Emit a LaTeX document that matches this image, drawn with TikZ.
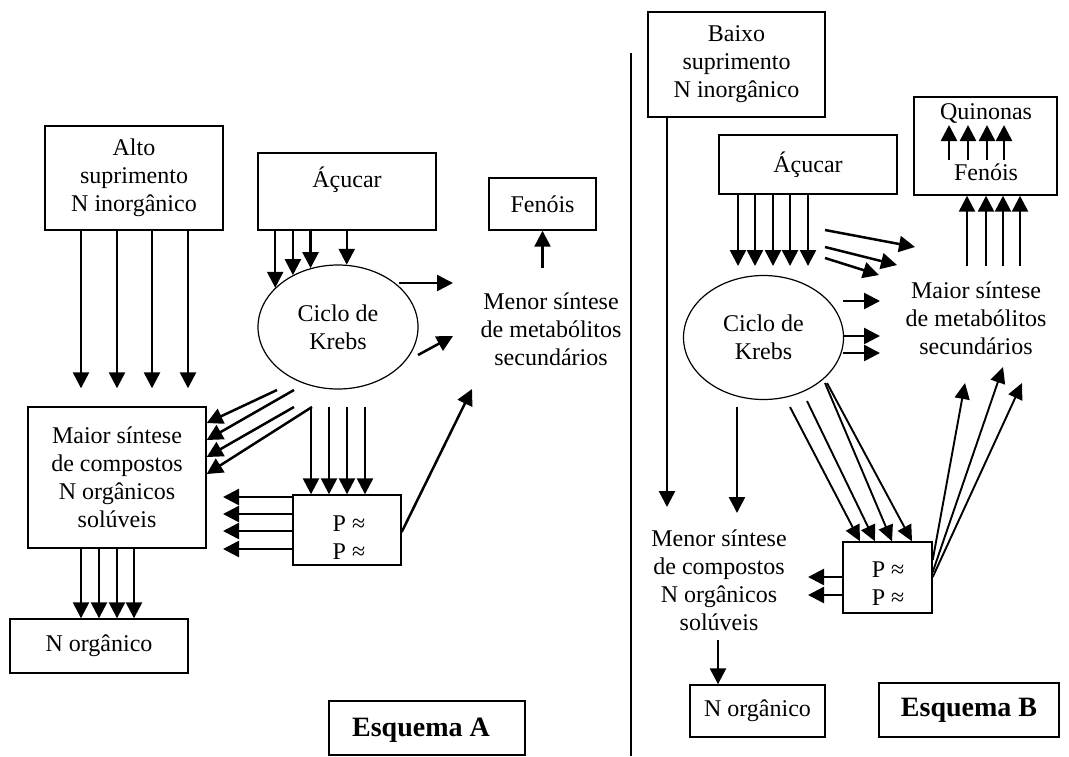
\documentclass[tikz,border=0pt]{standalone}
\usepackage{fontspec}
\setmainfont{Liberation Serif}
\usetikzlibrary{arrows.meta,shapes.geometric}
\tikzset{
  box/.style={draw, line width=0.7pt, inner sep=0pt, align=center},
  txt/.style={inner sep=0pt, align=center},
  cycle/.style={draw, ellipse, line width=0.6pt, inner sep=0pt, align=center,
    minimum width=80pt, minimum height=62pt},
  arr/.style={-{Triangle[length=8pt,width=8pt]}, line width=1.25pt},
  tarr/.style={-{Triangle[length=8pt,width=7.5pt]}, line width=0.95pt},
  title/.style={box, minimum height=27pt, font=\fontsize{14pt}{16pt}\selectfont\bfseries},
}
\begin{document}
\begin{tikzpicture}[x=0.5pt, y=-0.5pt, font=\fontsize{12pt}{14pt}\selectfont]
\useasboundingbox (0,0) rectangle (1069,756);

% Esquema A
\node[box, minimum width=89pt, minimum height=52pt] (alto) at (134,178) {Alto\\suprimento\\N inorgânico};
\node[box, minimum width=89pt, minimum height=38.5pt] (acucarA) at (347,191.5) {};
\node[txt] (acucarAt) at (347,180) {Áçucar};
\node[box, minimum width=53.5pt, minimum height=26pt] (fenA) at (542.5,204) {Fenóis};
\node[cycle] (krebsA) at (338,327) {Ciclo de\\Krebs};
\node[txt] (metaA) at (551,329) {Menor síntese\\de metabólitos\\secundários};
\node[box, minimum width=89pt, minimum height=70.5pt] (maiorA) at (117,477.5) {Maior síntese\\de compostos\\N orgânicos\\solúveis};
\node[box, minimum width=54pt, minimum height=35pt] (pA) at (347,530) {};
\node[txt] (pAt) at (349,538) {P ≈\\P ≈};
\node[box, minimum width=89pt, minimum height=27pt] (norgA) at (99,646) {N orgânico};
\node[title, minimum width=98pt] (esqA) at (427,728) {};
\node[txt, font=\fontsize{14pt}{16pt}\selectfont\bfseries] (esqAt) at (421,730) {Esquema A};

\foreach \x in {81,117,152,188}
  \draw[arr, shorten >=9pt] (\x,0 |- alto.south) -- (\x,0 |- maiorA.north);
\foreach \a in {148,131,115,82}
  \draw[arr] (acucarA.south -| krebsA.\a) -- (krebsA.\a);
\draw[arr] (399,283) -- (453,283);
\draw[arr] (418,355) -- (453,336);
\draw[arr] ([yshift=-18.5pt]fenA.south) -- (fenA.south);
\foreach \sx/\sy/\ty in {277/390/423, 294/390/440, 294/407/457, 312/407/474}
  \draw[arr] (\sx,\sy) -- (maiorA.east |- 0,\ty);
\foreach \x in {311,329,347,365}
  \draw[arr] (\x,407) -- (\x,0 |- pA.north);
\foreach \y in {497,514,531,549}
  \draw[arr] (pA.west |- 0,\y) -- (223,\y);
\draw[arr] (pA.east |- 0,532) -- (472,389);
\foreach \x in {81,99,117,134}
  \draw[arr] (\x,0 |- maiorA.south) -- (\x,0 |- norgA.north);

% divisao
\draw[line width=0.8pt] (631,53) -- (631,756);

% Esquema B
\node[box, minimum width=88.5pt, minimum height=52.5pt] (baixo) at (736.5,64.5) {Baixo\\suprimento\\N inorgânico};
\node[box, minimum width=89pt, minimum height=29.5pt] (acucarB) at (808,164.5) {Áçucar};
\node[box, minimum width=71.5pt, minimum height=49pt] (quin) at (985.5,146) {};
\node[txt] (quinT) at (986,113) {Quinonas};
\node[txt] (fenB) at (986,172) {Fenóis};
\node[cycle] (krebsB) at (763.5,337.5) {Ciclo de\\Krebs};
\node[txt] (maiorB) at (976,318) {Maior síntese\\de metabólitos\\secundários};
\node[txt] (menorB) at (719,580) {Menor síntese\\de compostos\\N orgânicos\\solúveis};
\node[box, minimum width=44.5pt, minimum height=35.5pt] (pB) at (887.5,577.5) {};
\node[txt] (pBt) at (888,584) {P ≈\\P ≈};
\node[box, minimum width=67.5pt, minimum height=26pt] (norgB) at (757.5,711) {N orgânico};
\node[title, minimum width=90pt] (esqB) at (969,710) {Esquema B};

\draw[arr] (667,0 |- baixo.south) -- (667,507);
\foreach \x in {738,755,773,790,808}
  \draw[arr] (\x,0 |- acucarB.south) -- (\x,266);
\foreach \sy/\tx/\ty in {230/915/247, 247/897/265, 258/879/275}
  \draw[arr] (825,\sy) -- (\tx,\ty);
\foreach \y in {301,336,353}
  \draw[arr] (843,\y) -- (880,\y);
\foreach \x in {967,986,1003,1020}
  \draw[arr] (\x,266) -- (\x,0 |- quin.south);
\foreach \x in {949,968,987,1004}
  \draw[arr] (\x,160) -- (\x,125);
\draw[arr] (737,407) -- (737,513);
\foreach \sx/\sy/\tx in {790/407/860, 807/401/875, 825/383/892, 827/383/912}
  \draw[tarr] (\sx,\sy) -- (\tx,0 |- pB.north);
\foreach \y in {577,595}
  \draw[arr] (pB.west |- 0,\y) -- (808,\y);
\foreach \sy/\tx/\ty in {560/965/383, 572/1003/367, 577/1022/383}
  \draw[tarr] (pB.east |- 0,\sy) -- (\tx,\ty);
\draw[arr] (718,640) -- (718,0 |- norgB.north);
\end{tikzpicture}
\end{document}
